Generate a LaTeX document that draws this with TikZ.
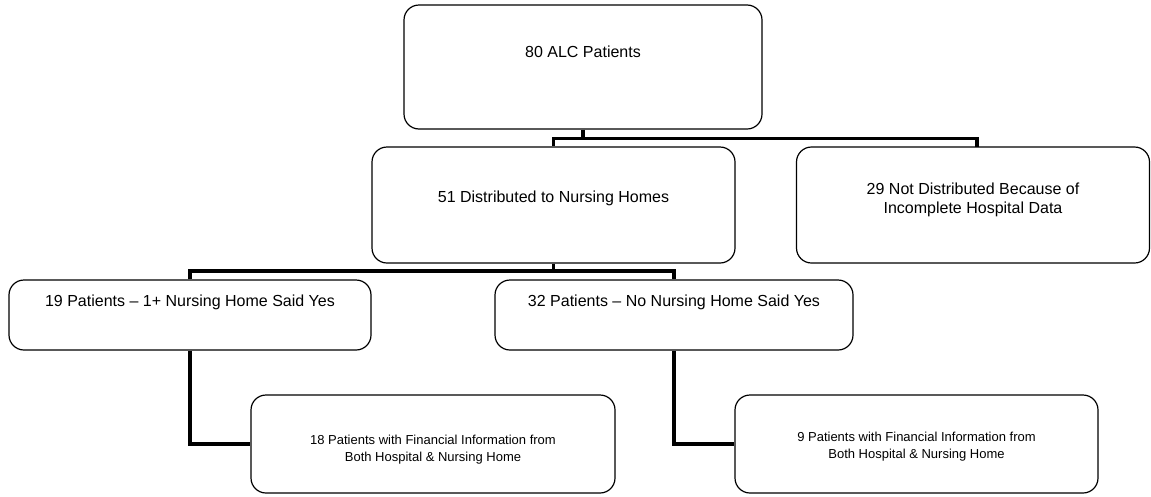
\documentclass[tikz,border=0pt]{standalone}
\usepackage{fontspec}
\setmainfont{Liberation Sans}
\begin{document}
\begin{tikzpicture}[x=1pt,y=-1pt,
  box/.style={draw=black,line width=1.2pt,rounded corners=15pt,rectangle,inner sep=0pt,fill=white},
  big/.style={font=\fontsize{16}{19}\selectfont,align=center,inner sep=0pt},
  small/.style={font=\fontsize{13}{17}\selectfont,align=center,inner sep=0pt},
  conn/.style={draw=black,line width=3.5pt}]
\useasboundingbox (0,0) rectangle (1151,496);
\node[box,minimum width=358pt,minimum height=124pt] (A) at (583,67) {};
\node[box,minimum width=363pt,minimum height=116pt] (B) at (553.5,205) {};
\node[box,minimum width=353pt,minimum height=116pt] (C) at (973,205) {};
\node[box,minimum width=362pt,minimum height=70pt] (D) at (190,315) {};
\node[box,minimum width=358pt,minimum height=70pt] (E) at (674,315) {};
\node[box,minimum width=364pt,minimum height=98pt] (F) at (433,444) {};
\node[box,minimum width=363pt,minimum height=98pt] (G) at (916.5,444) {};

\node[big] (tA) at (583,52) {80 ALC Patients};
\node[big] (tB) at (553.5,198) {51 Distributed to Nursing Homes};
\node[big] (tC) at (973,200) {29 Not Distributed Because of\\Incomplete Hospital Data};
\node[big] (tD) at (190,302) {19 Patients -- 1+ Nursing Home Said Yes};
\node[big] (tE) at (674,302) {32 Patients -- No Nursing Home Said Yes};
\node[small] (tF) at (433,450) {18 Patients with Financial Information from\\Both Hospital \& Nursing Home};
\node[small] (tG) at (916.5,447) {9 Patients with Financial Information from\\Both Hospital \& Nursing Home};

\coordinate (j1) at (583,138.5);
\coordinate (j2) at (553.5,271);
\coordinate (cC) at (977,147);
\draw[conn] (A.south) -- (j1);
\draw[conn] (B.north) |- (j1) -| (cC);
\draw[conn] (B.south) -- (j2);
\draw[conn] (D.north) |- (j2) -| (E.north);
\draw[conn] (D.south) |- (F.west);
\draw[conn] (E.south) |- (G.west);
\end{tikzpicture}
\end{document}
